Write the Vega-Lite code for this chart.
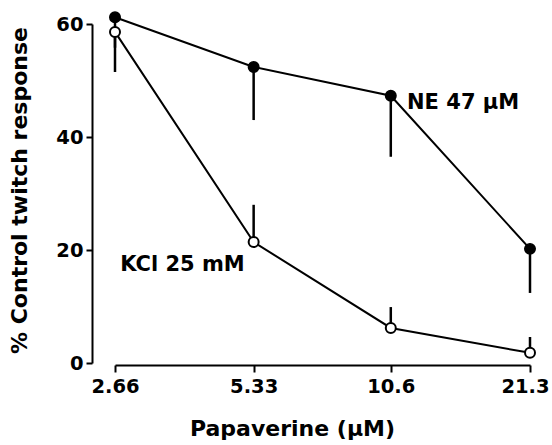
{
  "$schema": "https://vega.github.io/schema/vega-lite/v6.json",
  "width": 415,
  "height": 339,
  "autosize": {"type": "none"},
  "padding": {"left": 115, "top": 24, "right": 22, "bottom": 82},
  "background": "white",
  "config": {
    "view": {"stroke": null},
    "font": "DejaVu Sans",
    "axis": {
      "domainColor": "black", "domainWidth": 2, "tickColor": "black", "tickWidth": 2,
      "labelColor": "black", "titleColor": "black", "grid": false,
      "labelFont": "DejaVu Sans", "titleFont": "DejaVu Sans",
      "labelFontSize": 19.5, "titleFontSize": 22, "titleFontWeight": "bold", "labelFontWeight": "bold"
    }
  },
  "datasets": {
    "pts": [
      {"series": "NE", "conc": 2.66, "resp": 61.2, "err": 55.8},
      {"series": "NE", "conc": 5.33, "resp": 52.4, "err": 43.0},
      {"series": "NE", "conc": 10.6, "resp": 47.3, "err": 36.5},
      {"series": "NE", "conc": 21.3, "resp": 20.2, "err": 12.4},
      {"series": "KCl", "conc": 2.66, "resp": 58.6, "err": 51.5},
      {"series": "KCl", "conc": 5.33, "resp": 21.4, "err": 28.0},
      {"series": "KCl", "conc": 10.6, "resp": 6.2, "err": 9.9},
      {"series": "KCl", "conc": 21.3, "resp": 1.8, "err": 4.6}
    ],
    "labels": [
      {"label": "NE 47 μM", "conc": 11.5, "resp": 46},
      {"label": "KCl 25 mM", "conc": 2.73, "resp": 17.3}
    ]
  },
  "encoding": {
    "x": {
      "field": "conc", "type": "quantitative",
      "scale": {"type": "log", "domain": [2.66, 21.3], "nice": false},
      "axis": {
        "values": [2.66, 5.33, 10.6, 21.3],
        "labelExpr": "datum.value == 2.66 ? '2.66' : datum.value == 5.33 ? '5.33' : datum.value == 10.6 ? '10.6' : '21.3'",
        "labelAlign": {"condition": {"test": "datum.value == 21.3", "value": "right"}, "value": "center"},
        "labelOffset": {"condition": {"test": "datum.value == 21.3", "value": 19}, "value": 0},
        "title": "Papaverine (μM)", "offset": 2, "tickSize": 7, "labelPadding": 5,
        "labelFlush": false, "labelOverlap": false,
        "titleX": 177, "titleY": 63, "titleBaseline": "middle", "titleAnchor": "middle"
      }
    },
    "y": {
      "field": "resp", "type": "quantitative",
      "scale": {"domain": [0, 60], "nice": false, "zero": true},
      "axis": {
        "values": [0, 20, 40, 60], "title": "% Control twitch response",
        "offset": 23, "tickSize": 6, "labelPadding": 3, "labelFlush": false,
        "titleX": -61, "titleY": 166, "titleBaseline": "bottom"
      }
    }
  },
  "layer": [
    {
      "data": {"name": "pts"},
      "mark": {"type": "rule", "strokeWidth": 2.5, "color": "black", "clip": false},
      "encoding": {"y2": {"field": "err"}}
    },
    {
      "data": {"name": "pts"},
      "mark": {"type": "line", "strokeWidth": 2, "color": "black", "clip": false},
      "encoding": {"detail": {"field": "series"}}
    },
    {
      "data": {"name": "pts"},
      "transform": [{"filter": "datum.series == 'NE'"}],
      "mark": {"type": "point", "filled": true, "fill": "black", "stroke": "black", "strokeWidth": 1.5, "size": 110, "opacity": 1, "clip": false}
    },
    {
      "data": {"name": "pts"},
      "transform": [{"filter": "datum.series == 'KCl'"}],
      "mark": {"type": "point", "filled": false, "fill": "white", "fillOpacity": 1, "stroke": "black", "strokeWidth": 2, "size": 100, "opacity": 1, "clip": false}
    },
    {
      "data": {"name": "labels"},
      "mark": {"type": "text", "align": "left", "baseline": "middle", "fontSize": 21, "fontWeight": "bold", "color": "black", "font": "DejaVu Sans"},
      "encoding": {"text": {"field": "label"}}
    }
  ]
}
